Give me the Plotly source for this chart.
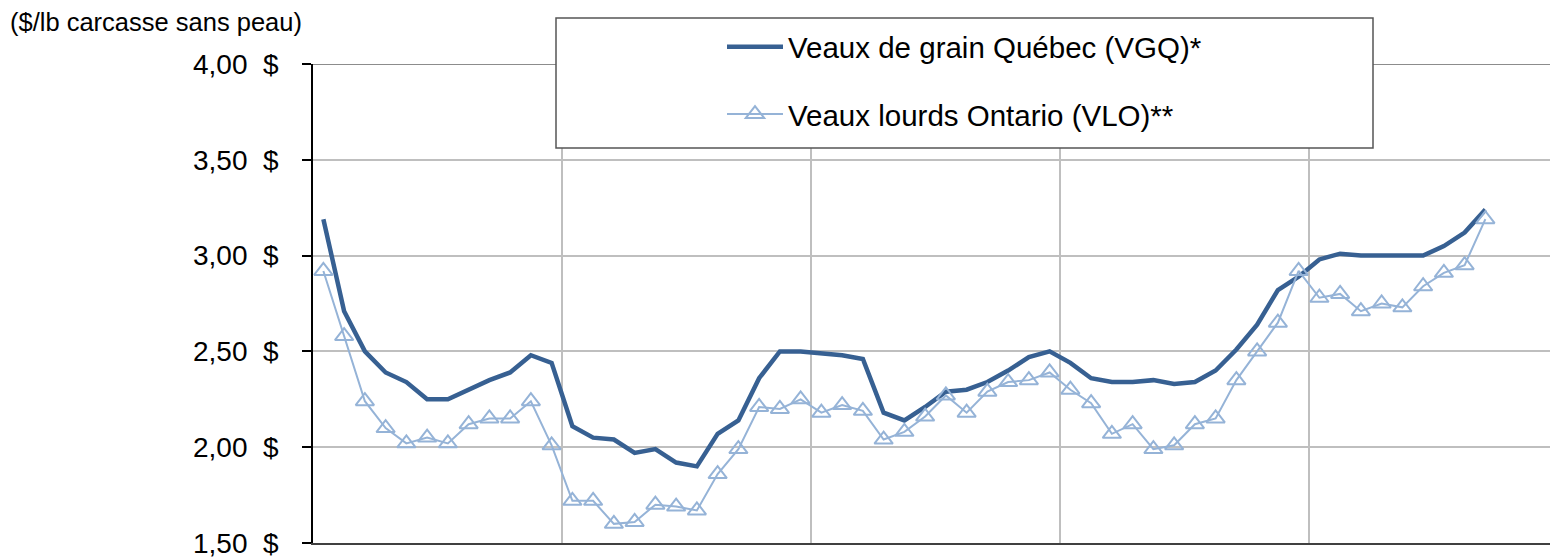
import plotly.graph_objects as go

# ---- data ----
months = list(range(57))
vgq = [3.19, 2.71, 2.50, 2.39, 2.34, 2.25, 2.25, 2.30, 2.35, 2.39, 2.48, 2.44,
       2.11, 2.05, 2.04, 1.97, 1.99, 1.92, 1.90, 2.07, 2.14, 2.36, 2.50, 2.50,
       2.49, 2.48, 2.46, 2.18, 2.14, 2.21, 2.29, 2.30, 2.34, 2.40, 2.47, 2.50,
       2.44, 2.36, 2.34, 2.34, 2.35, 2.33, 2.34, 2.40, 2.51, 2.64, 2.82, 2.89,
       2.98, 3.01, 3.00, 3.00, 3.00, 3.00, 3.05, 3.12, 3.24]
vlo = [2.92, 2.58, 2.24, 2.10, 2.02, 2.05, 2.02, 2.12, 2.15, 2.15, 2.24, 2.01,
       1.72, 1.72, 1.60, 1.61, 1.70, 1.69, 1.67, 1.86, 1.99, 2.21, 2.20, 2.25,
       2.18, 2.22, 2.19, 2.04, 2.08, 2.16, 2.27, 2.18, 2.29, 2.34, 2.35, 2.39,
       2.30, 2.23, 2.07, 2.12, 1.99, 2.01, 2.12, 2.15, 2.35, 2.50, 2.65, 2.92,
       2.78, 2.80, 2.71, 2.75, 2.73, 2.84, 2.91, 2.95, 3.19]
y_ticks = [1.5, 2.0, 2.5, 3.0, 3.5, 4.0]
y_labels = [f"{v:.2f}".replace(".", ",") + "\u00a0\u00a0$" for v in y_ticks]
section_edges = [11.5, 23.5, 35.5, 47.5]
x_range = [-0.5, 59.5]
name_vgq = "Veaux de grain Québec (VGQ)*"
name_vlo = "Veaux lourds Ontario (VLO)**"
y_title = "($/lb carcasse sans peau)"

# page body has an 8px default margin: figure is sized to fit inside the window
OFF = 8
W, H = 1558 - OFF, 559 - OFF
L, R, T, B = 313 - OFF, 0, 64 - OFF, 559 - 543
PW, PH = W - L - R, H - T - B


def px_x(p):
    """screen pixel x -> paper coordinate"""
    return (p - OFF - L) / PW


def px_y(p):
    """screen pixel y -> paper coordinate"""
    return (H - B - (p - OFF)) / PH


FONT = "Arial, Liberation Sans, sans-serif"
ITEMW = 56

fig = go.Figure()
fig.add_trace(go.Scatter(
    x=months, y=vgq, name=name_vgq, mode="lines", legendgroup="a",
    line=dict(color="#376092", width=4.5),
))
fig.add_trace(go.Scatter(
    x=months, y=vlo, name=name_vlo, mode="lines+markers", legendgroup="b",
    line=dict(color="#95B3D7", width=2),
    marker=dict(symbol="triangle-up-open", size=16, color="#95B3D7",
                line=dict(color="#95B3D7", width=2)),
))

fig.update_layout(
    width=W, height=H,
    margin=dict(l=L, r=R, t=T, b=B, pad=0),
    paper_bgcolor="white", plot_bgcolor="white",
    font=dict(family=FONT, color="black"),
    showlegend=True,
    legend=dict(
        x=px_x(788 - ITEMW - 10), y=px_y(21), xanchor="left", yanchor="top",
        bgcolor="rgba(0,0,0,0)", borderwidth=0, itemwidth=ITEMW,
        font=dict(size=29.5, family=FONT, color="black"),
        traceorder="grouped", tracegroupgap=26,
    ),
    xaxis=dict(
        range=x_range, tickmode="array", tickvals=section_edges,
        showticklabels=False, ticks="", showgrid=True,
        gridcolor="#BFBFBF", gridwidth=2, zeroline=False,
        showline=True, linecolor="#404040", linewidth=2,
    ),
    yaxis=dict(
        range=[1.5, 4.0], tickmode="array", tickvals=y_ticks, ticktext=y_labels,
        tickfont=dict(size=28, family=FONT, color="black"),
        ticks="outside", ticklen=9, tickwidth=1.5, tickcolor="black",
        ticklabelstandoff=18,
        showgrid=True, gridcolor="#BFBFBF", gridwidth=2, zeroline=False,
        showline=True, linecolor="black", linewidth=1.5,
    ),
    shapes=[
        dict(type="line", xref="paper", yref="y", x0=0, x1=1, y0=4.0, y1=4.0,
             line=dict(color="#8C8C8C", width=2), layer="below"),
        dict(type="rect", xref="paper", yref="paper",
             x0=px_x(556), x1=px_x(1373), y0=px_y(148), y1=px_y(18),
             line=dict(color="#555555", width=1.5), fillcolor="white",
             layer="above"),
    ],
    annotations=[
        dict(text=y_title, xref="paper", yref="paper",
             x=px_x(8), y=px_y(22), xanchor="left", yanchor="middle",
             showarrow=False, font=dict(size=25.5, family=FONT, color="black")),
    ],
)

fig.write_html("out.html")
